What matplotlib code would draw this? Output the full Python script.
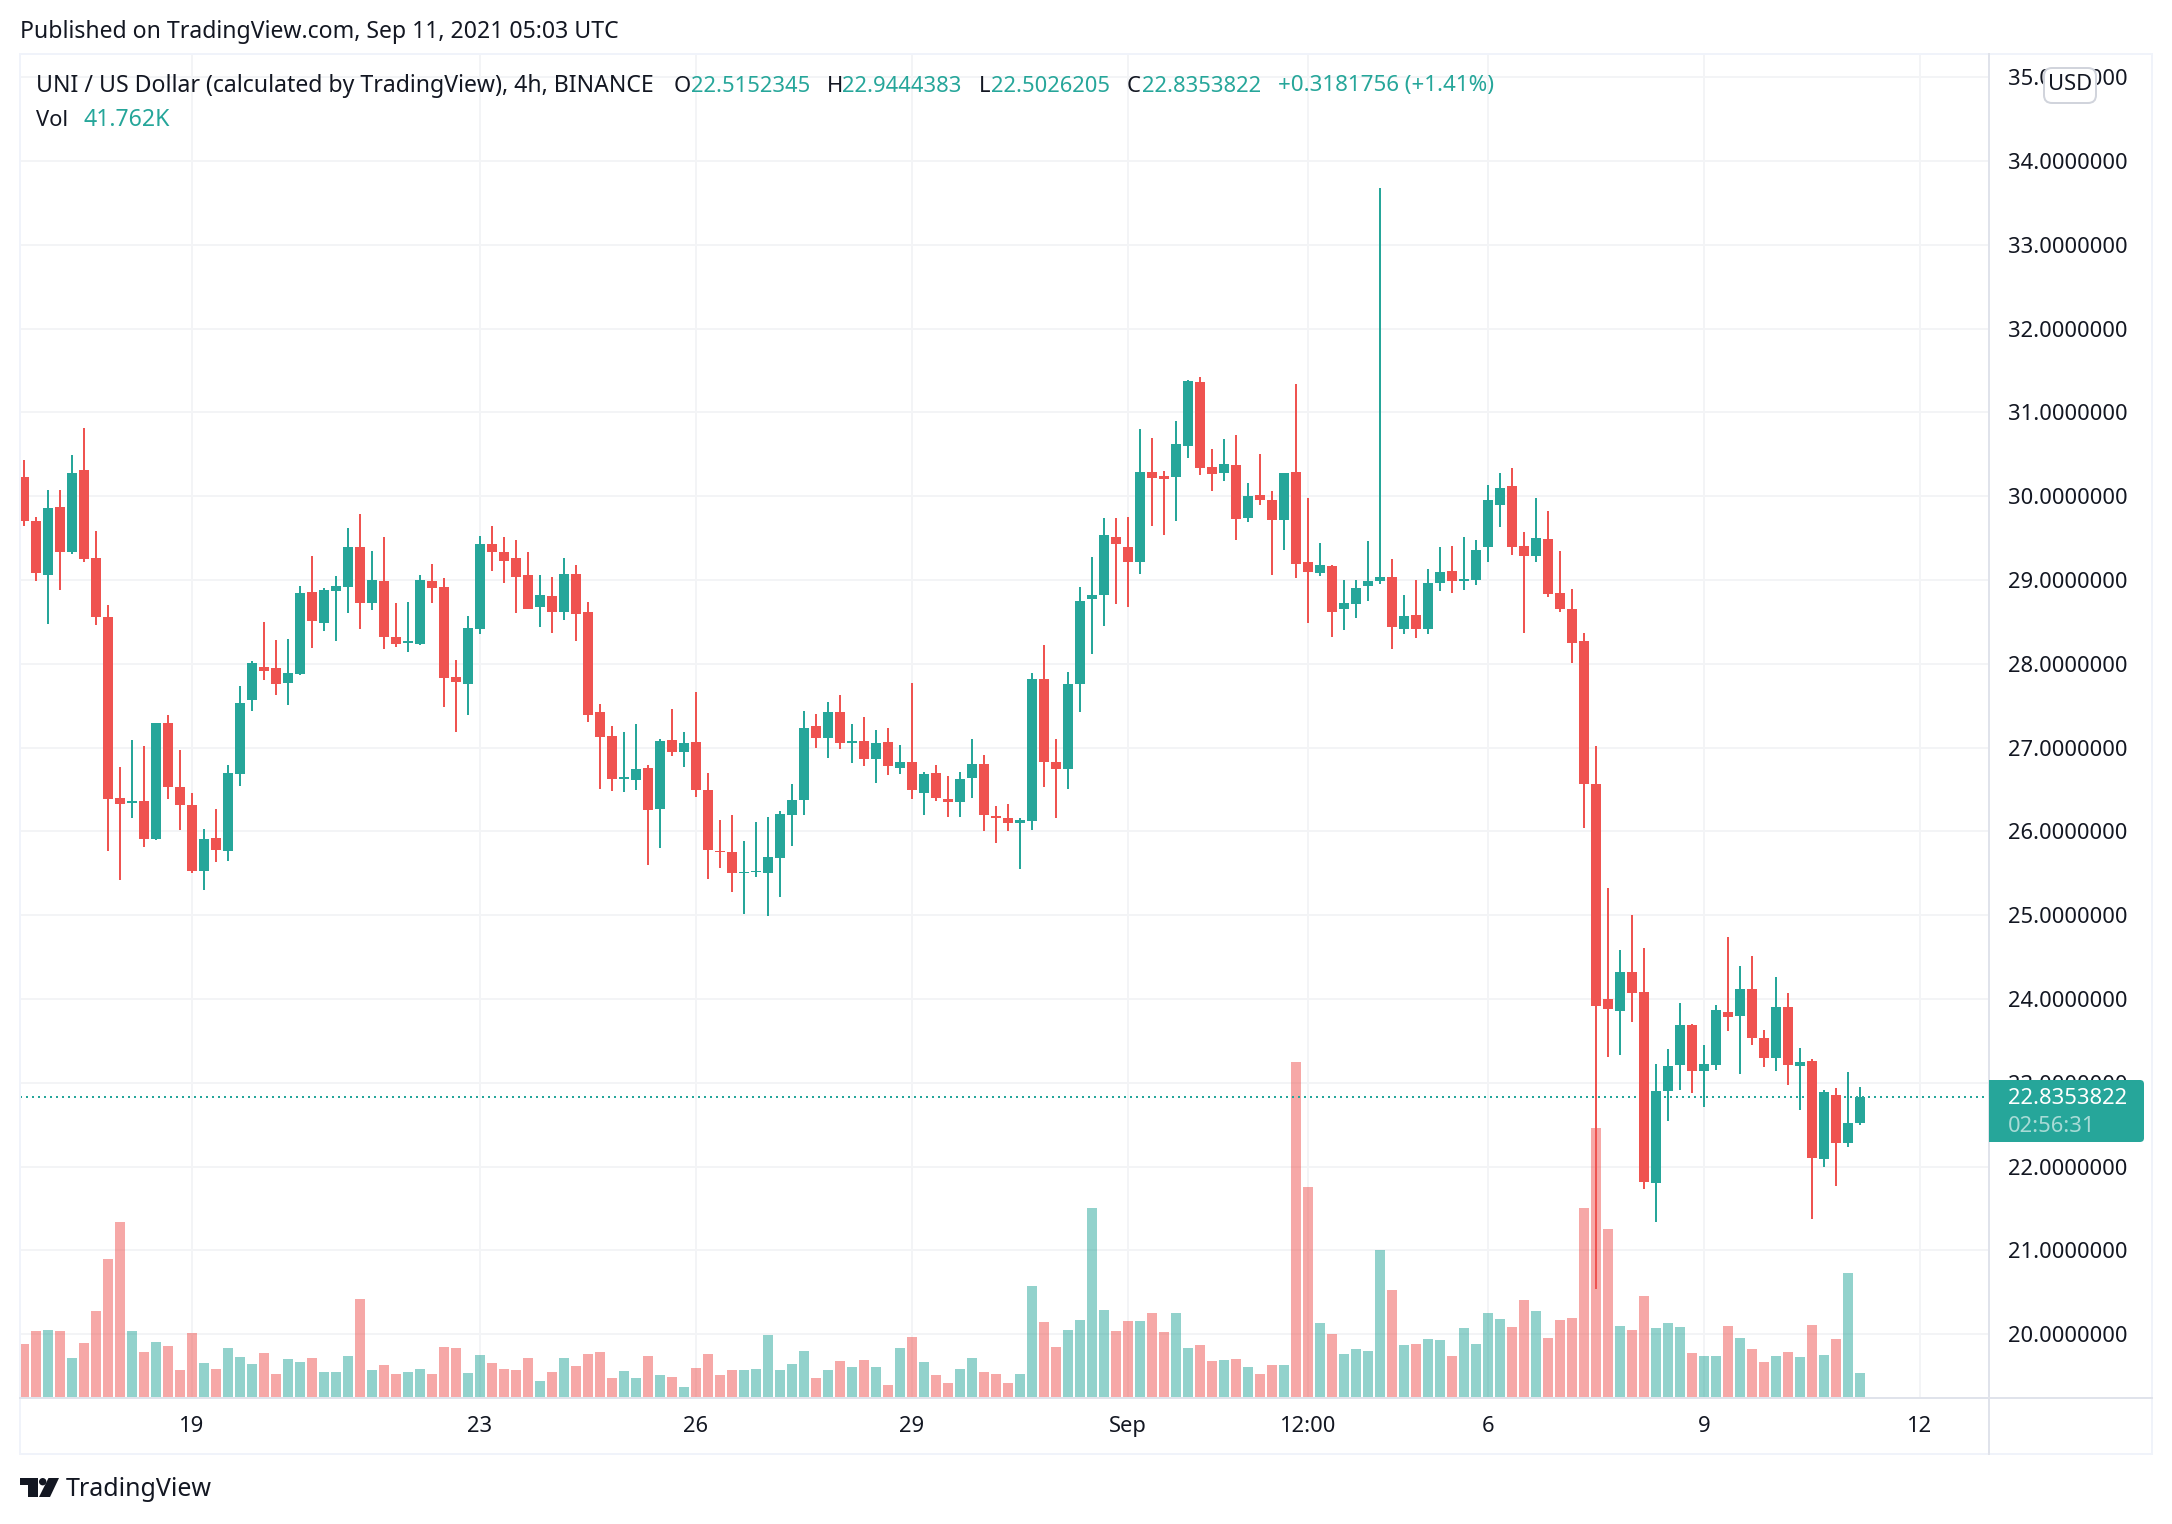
import matplotlib
matplotlib.use("Agg")
import matplotlib.pyplot as plt
from matplotlib.patches import FancyBboxPatch, Rectangle, Polygon, Circle
from matplotlib.transforms import IdentityTransform

plt.rcParams['font.family'] = ['Noto Sans', 'DejaVu Sans']

open_ = [30.23,29.70,29.06,29.87,29.33,30.31,29.26,28.56,26.40,26.34,26.36,25.91,27.29,26.53,26.32,25.53,25.92,25.77,26.69,27.57,
27.96,27.95,27.77,27.88,28.86,28.49,28.87,28.92,29.39,28.73,28.99,28.32,28.25,28.24,28.99,28.92,27.84,27.76,28.42,29.43,
29.33,29.26,29.06,28.68,28.81,28.62,29.07,28.62,27.43,27.14,26.62,26.61,26.76,26.27,27.09,26.95,27.07,26.49,25.77,25.76,
25.50,25.51,25.50,25.68,26.20,26.37,27.26,27.12,27.43,27.06,27.08,26.87,27.07,26.76,26.83,26.46,26.70,26.39,26.35,26.64,
26.80,26.18,26.16,26.10,26.13,27.82,26.83,26.74,27.76,28.77,28.82,29.51,29.39,29.21,30.29,30.24,30.23,30.60,31.36,30.35,
30.28,30.37,29.74,30.01,29.95,29.72,30.29,29.21,29.08,29.17,28.65,28.71,28.93,28.99,29.04,28.42,28.58,28.42,28.96,29.11,
28.99,29.00,29.39,29.90,30.12,29.41,29.29,29.49,28.84,28.65,28.27,26.56,24.00,23.86,24.32,24.08,21.81,22.90,23.21,23.69,
23.14,23.21,23.85,23.80,24.12,23.54,23.30,23.90,23.20,23.26,22.09,22.86,22.28,22.5152]
high = [30.43,29.75,30.07,30.07,30.49,30.81,29.58,28.70,26.77,27.09,27.02,27.29,27.39,26.97,26.46,26.03,26.27,26.79,27.74,28.03,
28.50,28.28,28.30,28.93,29.29,28.90,29.05,29.62,29.79,29.35,29.51,28.73,28.74,29.06,29.19,29.02,28.05,28.57,29.53,29.64,
29.51,29.48,29.33,29.06,29.04,29.26,29.18,28.74,27.52,27.26,27.19,27.28,26.79,27.10,27.46,27.19,27.66,26.70,26.14,26.20,
25.89,26.11,26.17,26.24,26.57,27.44,27.40,27.54,27.63,27.28,27.37,27.21,27.23,27.03,27.77,26.71,26.79,26.66,26.71,27.10,
26.91,26.30,26.33,26.16,27.89,28.22,27.10,27.90,28.92,29.27,29.74,29.74,29.75,30.80,30.69,30.30,30.90,31.39,31.42,30.56,
30.68,30.73,30.16,30.50,30.06,30.28,31.34,29.98,29.44,29.18,29.00,29.00,29.47,33.68,29.25,28.82,29.00,29.13,29.39,29.41,
29.51,29.48,30.13,30.28,30.34,29.57,29.98,29.82,29.35,28.89,28.37,27.02,25.33,24.59,25.00,24.61,23.22,23.40,23.95,23.70,
23.45,23.93,24.74,24.40,24.51,23.63,24.26,24.07,23.42,23.29,22.91,22.94,23.13,22.9444]
low = [29.64,28.99,28.47,28.88,29.31,29.21,28.46,25.77,25.42,26.16,25.81,25.90,26.39,26.02,25.50,25.30,25.64,25.65,26.54,27.44,
27.81,27.63,27.51,27.87,28.19,28.39,28.27,28.61,28.42,28.64,28.18,28.20,28.14,28.23,28.73,27.48,27.19,27.39,28.36,29.11,
28.96,28.61,28.65,28.44,28.37,28.52,28.27,27.31,26.51,26.48,26.47,26.49,25.60,25.80,26.90,26.77,26.41,25.43,25.56,25.28,
25.01,25.46,24.99,25.22,25.83,26.20,27.00,26.88,26.98,26.82,26.78,26.58,26.67,26.69,26.39,26.20,26.36,26.17,26.17,26.40,
26.00,25.86,26.00,25.55,26.02,26.53,26.16,26.51,27.43,28.12,28.45,28.71,28.68,29.07,29.64,29.54,29.70,30.46,30.25,30.06,
30.18,29.48,29.69,29.89,29.06,29.36,29.02,28.49,29.05,28.32,28.40,28.55,28.75,28.95,28.18,28.36,28.31,28.36,28.87,28.84,
28.88,28.94,29.21,29.63,29.30,28.37,29.21,28.80,28.62,28.01,26.04,20.54,23.31,23.33,23.73,21.73,21.34,22.54,22.92,22.88,
22.71,23.15,23.62,23.11,23.45,23.19,23.14,22.98,22.68,21.37,22.00,21.77,22.24,22.5026]
close = [29.70,29.08,29.86,29.33,30.28,29.25,28.56,26.39,26.33,26.36,25.91,27.29,26.53,26.32,25.53,25.91,25.78,26.70,27.53,28.01,
27.91,27.76,27.89,28.84,28.51,28.88,28.93,29.39,28.72,29.00,28.32,28.24,28.27,29.00,28.90,27.83,27.78,28.43,29.43,29.33,
29.23,29.04,28.66,28.82,28.62,29.07,28.60,27.39,27.13,26.63,26.65,26.74,26.25,27.08,26.95,27.05,26.50,25.78,25.75,25.50,
25.52,25.53,25.69,26.21,26.37,27.23,27.12,27.43,27.06,27.08,26.86,27.05,26.78,26.83,26.49,26.69,26.40,26.35,26.63,26.80,
26.20,26.16,26.10,26.14,27.82,26.83,26.75,27.76,28.75,28.82,29.54,29.43,29.21,30.29,30.22,30.21,30.62,31.37,30.34,30.27,
30.38,29.73,30.00,29.95,29.72,30.28,29.19,29.09,29.18,28.62,28.73,28.90,28.99,29.04,28.44,28.57,28.41,28.96,29.10,28.99,
29.01,29.36,29.95,30.10,29.39,29.29,29.50,28.83,28.65,28.25,26.56,23.92,23.88,24.32,24.07,21.82,22.90,23.20,23.69,23.14,
23.22,23.87,23.78,24.12,23.53,23.30,23.90,23.21,23.25,22.10,22.89,22.28,22.52,22.8354]
volume = [93.5,116.4,118.2,116.4,68.8,95.3,151.7,243.4,308.7,116.4,79.4,97.0,90.0,47.6,112.9,60.0,49.4,86.4,70.6,58.2,
77.6,40.6,67.0,61.7,68.8,44.1,44.1,72.3,172.9,47.6,56.4,40.6,44.1,49.4,40.6,88.2,86.4,42.3,74.1,60.0,
49.4,47.6,68.8,28.2,44.1,68.8,54.7,75.9,79.4,33.5,45.9,33.5,72.3,38.8,35.3,17.6,51.2,75.9,38.8,47.6,
47.6,49.4,109.4,47.6,58.2,81.1,33.5,47.6,63.5,52.9,65.3,52.9,21.2,86.4,105.8,61.7,38.8,24.7,49.4,68.8,
44.1,40.6,24.7,40.6,195.8,132.3,88.2,118.2,135.8,333.4,153.5,116.4,134.1,134.1,148.2,114.7,148.2,86.4,91.7,63.5,
65.3,67.0,52.9,40.6,56.4,56.4,590.9,370.4,130.5,111.1,75.9,84.7,81.1,259.3,188.7,91.7,93.5,102.3,100.5,72.3,
121.7,93.5,148.2,137.6,124.1,171.7,152.3,103.5,136.4,139.9,334.0,474.5,296.9,125.8,117.6,178.8,121.1,131.1,122.9,77.0,
71.7,71.7,125.8,103.5,84.1,61.2,71.7,78.8,70.0,127.6,73.5,101.7,219.3,41.8]

price_ticks = list(range(20, 36))
date_tick_pos = [14, 38, 56, 74, 92, 107, 122, 140, 158]
date_tick_lbl = ['19', '23', '26', '29', 'Sep', '12:00', '6', '9', '12']
last_price = 22.8353822

W, H = 2172, 1524
GREEN, RED = '#26a69a', '#ef5350'
INK = '#131722'
GRID = '#f3f4f6'
FRAME = '#f0f3fa'
SEP = '#e0e3eb'
FS = 15.8
FS_LONG = 16.6

fig = plt.figure(figsize=(W/100, H/100), dpi=100, facecolor='white')
L, R, T, B = 20, 1989, 54, 1398
rect = [L/W, 1-B/H, (R-L)/W, (B-T)/H]
XL = ((L-24)/12, (R-24)/12)
YL = (19.239, 35.277)

ax = fig.add_axes(rect, zorder=1)
ax_v = ax.twinx()
ax_c = ax.twinx()
ax.set_xlim(XL); ax.set_ylim(YL)
ax.set_yticks(price_ticks, [f'{p:.7f}' for p in price_ticks])
ax.yaxis.tick_right()
ax.set_xticks(date_tick_pos, date_tick_lbl)
ax.tick_params(length=0, labelsize=FS, labelcolor=INK)
ax.tick_params(axis='y', pad=13.5)
ax.tick_params(axis='x', pad=13)
for t in ax.get_xticklabels():
    if t.get_text() == 'Sep':
        t.set_fontweight('bold')
ax.grid(True, color=GRID, lw=1.44)
ax.set_axisbelow(True)
for s in ax.spines.values():
    s.set_visible(False)

ax_v.set_zorder(2); ax_v.patch.set_visible(False)
ax_v.set_ylim(-1.76, 2369)
ax_v.axis('off')
xs = list(range(len(close)))
up = [c >= o for o, c in zip(open_, close)]
ax_v.bar(xs, volume, width=10/12, color=[GREEN if u else RED for u in up], alpha=0.5, lw=0)

ax_c.set_zorder(3); ax_c.patch.set_visible(False)
ax_c.set_ylim(YL)
ax_c.axis('off')
cols = [GREEN if u else RED for u in up]
ax_c.vlines(xs, low, high, colors=cols, lw=1.44, zorder=2, capstyle='butt')
ax_c.bar(xs, [abs(c-o) for o, c in zip(open_, close)], bottom=[min(o, c) for o, c in zip(open_, close)],
         width=10/12, color=cols, lw=0, zorder=3)
ax_c.axhline(last_price, color=GREEN, lw=1.44, ls=(0, (1, 2)), zorder=1)

def line(x0, y0, x1, y1, c):
    fig.add_artist(plt.Line2D([x0/W, x1/W], [1-y0/H, 1-y1/H], color=c, lw=1.44, zorder=5))

line(20, 54, 2152, 54, FRAME); line(20, 1454, 2152, 1454, FRAME)
line(20, 54, 20, 1454, FRAME); line(2152, 54, 2152, 1454, FRAME)
line(1989, 54, 1989, 1454, SEP); line(20, 1398, 2152, 1398, SEP)

def txt(x, y, s, c=INK, fs=FS, **kw):
    fig.text(x/W, 1-y/H, s, color=c, fontsize=fs, va='center', ha='left', zorder=12, **kw)

txt(20, 32, 'Published on TradingView.com, Sep 11, 2021 05:03 UTC', fs=FS_LONG)
txt(36, 86, 'UNI / US Dollar (calculated by TradingView), 4h, BINANCE', fs=FS_LONG)
txt(674, 86, 'O'); txt(691, 86, '22.5152345', GREEN)
txt(827, 86, 'H'); txt(842, 86, '22.9444383', GREEN)
txt(979, 86, 'L'); txt(991, 86, '22.5026205', GREEN)
txt(1127, 86, 'C'); txt(1142, 86, '22.8353822', GREEN)
txt(1278, 86, '+0.3181756 (+1.41%)', GREEN, fs=16.1)
txt(36, 120, 'Vol'); txt(84, 120, '41.762K', GREEN, fs=16.6)

# price label
fig.add_artist(FancyBboxPatch((1996, H-1142), 148, 62, boxstyle='round,pad=0,rounding_size=4',
                              transform=IdentityTransform(), fc=GREEN, ec='none', zorder=10))
fig.add_artist(Rectangle((1989, H-1142), 20, 62, transform=IdentityTransform(), fc=GREEN, ec='none', zorder=10))
txt(2008, 1098, '22.8353822', 'white')
txt(2008, 1126, '02:56:31', '#a8dbd6')

# currency button
fig.add_artist(FancyBboxPatch((2044, H-103), 52, 35, boxstyle='round,pad=0,rounding_size=8',
                              transform=IdentityTransform(), fc='white', ec='#d1d4dc', lw=1.44, zorder=10))
fig.text(2070/W, 1-85/H, 'USD', color=INK, fontsize=FS, ha='center', va='center', zorder=12)

# logo
fig.add_artist(Polygon([(20, H-1478), (38, H-1478), (38, H-1497), (28, H-1497), (28, H-1485), (20, H-1485)],
                       transform=IdentityTransform(), fc=INK, ec='none', zorder=10))
fig.add_artist(Circle((42.7, H-1481.7), 3.7, transform=IdentityTransform(), fc=INK, ec='none', zorder=10))
fig.add_artist(Polygon([(48.5, H-1478), (59, H-1478), (50, H-1497), (39, H-1497)],
                       transform=IdentityTransform(), fc=INK, ec='none', zorder=10))
txt(66, 1489, 'TradingView', fs=18)

fig.savefig('out.png', dpi=100, facecolor='white')
